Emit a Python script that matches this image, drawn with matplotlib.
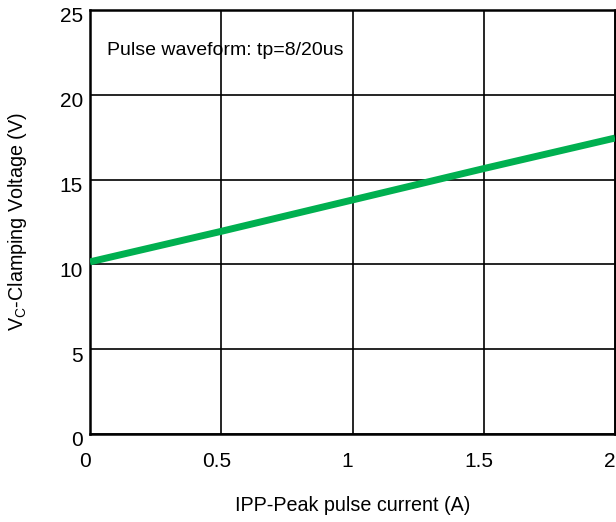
import matplotlib.pyplot as plt
import matplotlib.transforms as mtransforms
import numpy as np

plt.rcParams['font.family'] = ['Liberation Sans', 'DejaVu Sans']

# peak pulse current (A) vs clamping voltage (V)
current = [0, 0.5, 1.0, 1.5, 2.0]
voltage = [10.15, 11.95, 13.8, 15.65, 17.45]

x_ticks = [0, 0.5, 1, 1.5, 2]
x_labels = ['0', '0.5', '1', '1.5', '2']
y_ticks = [0, 5, 10, 15, 20, 25]

fig = plt.figure(figsize=(6.16, 5.22), dpi=100)
ax = fig.add_axes([90 / 616, 1 - 434 / 522, 525 / 616, 424 / 522])

ax.plot(current, voltage, color='#00B050', linewidth=5, solid_capstyle='butt', zorder=3)

ax.set_xlim(0, 2)
ax.set_ylim(0, 25)
ax.set_xticks(x_ticks)
ax.set_xticklabels(x_labels)
ax.set_yticks(y_ticks)
ax.grid(True, color='black', linewidth=1.2)
ax.tick_params(axis='both', length=0, labelsize=15)
ax.tick_params(axis='x', pad=13)
ax.tick_params(axis='y', pad=5)
for s in ax.spines.values():
    s.set_linewidth(1.8)

# labels sit a little left / below their grid lines in the original
shift_x = mtransforms.ScaledTranslation(-5 / 100, 0, fig.dpi_scale_trans)
for lab in ax.get_xticklabels():
    lab.set_transform(lab.get_transform() + shift_x)
shift_y = mtransforms.ScaledTranslation(0, -5 / 100, fig.dpi_scale_trans)
for lab in ax.get_yticklabels():
    lab.set_transform(lab.get_transform() + shift_y)

ax.text(0.033, 0.905, 'Pulse waveform: tp=8/20us', transform=ax.transAxes,
        fontsize=14, va='center', ha='left')

ax.set_xlabel('IPP-Peak pulse current (A)', fontsize=14.2, labelpad=18)
ax.set_ylabel('V$_{\\mathregular{C}}$-Clamping Voltage (V)', fontsize=14.2, labelpad=22)

fig.savefig('out.png', dpi=100)
